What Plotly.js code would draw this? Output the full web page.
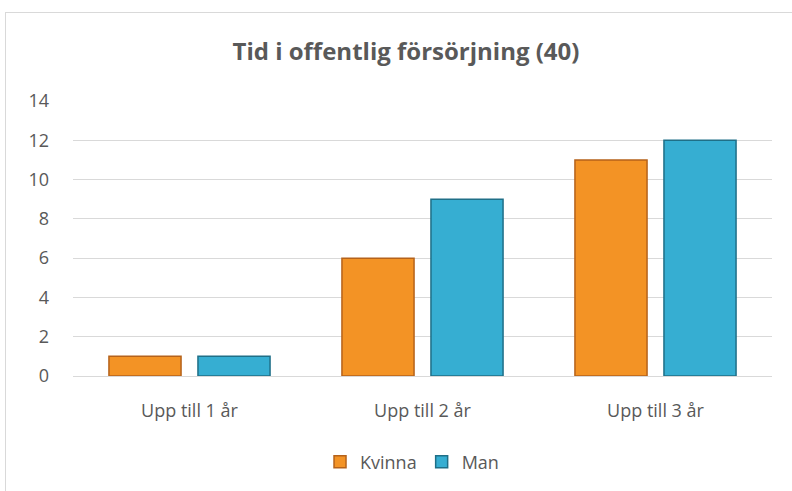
<!DOCTYPE html>
<html>
<head>
<meta charset="utf-8">
<script src="https://cdn.plot.ly/plotly-3.0.1.min.js"></script>
<style>
  html, body { margin: 0; padding: 0; background: #ffffff; overflow: hidden; }
  #wrap { position: relative; width: 792px; height: 491px; }
  #chart { position: absolute; left: 0; top: 0; width: 792px; height: 491px; }
  #frame { position: absolute; left: 5px; top: 12px; width: 820px; height: 520px;
           border: 1px solid #d9d9d9; pointer-events: none; box-sizing: border-box; }
</style>
</head>
<body>
<div id="wrap">
  <div id="chart"></div>
  <div id="frame"></div>
</div>
<script>
const categories = ["Upp till 1 år", "Upp till 2 år", "Upp till 3 år"];
const kvinna = [1, 6, 11];
const man = [1, 9, 12];
const yTicks = [0, 2, 4, 6, 8, 10, 12, 14];

const font = "'Open Sans', 'Noto Sans', sans-serif";
const textColor = "#595959";

const traces = [
  {
    type: "bar", name: "Kvinna", x: categories, y: kvinna,
    marker: { color: "#F39325", line: { color: "#B5621A", width: 1.5 } },
    hoverinfo: "skip"
  },
  {
    type: "bar", name: "Man", x: categories, y: man,
    marker: { color: "#36AED2", line: { color: "#1F6F87", width: 1.5 } },
    hoverinfo: "skip"
  }
];

const layout = {
  width: 792, height: 491,
  paper_bgcolor: "rgba(0,0,0,0)", plot_bgcolor: "rgba(0,0,0,0)",
  margin: { l: 73, r: 20, t: 101, b: 114 },
  barmode: "group", bargap: 0.236, bargroupgap: 0.19,
  title: {
    text: "<b>Tid i offentlig försörjning (40)</b>",
    font: { family: font, size: 24, color: textColor },
    x: 406 / 792, xanchor: "center", xref: "container",
    y: 1 - 52 / 491, yanchor: "middle", yref: "container"
  },
  xaxis: {
    type: "category", automargin: false,
    tickfont: { family: font, size: 18, color: textColor },
    showgrid: false, zeroline: false,
    showline: true, linecolor: "#d9d9d9", linewidth: 1,
    ticks: "", ticklabelstandoff: 18
  },
  yaxis: {
    range: [0, 14], tickvals: yTicks, ticktext: yTicks.map(String),
    automargin: false,
    tickfont: { family: font, size: 18, color: textColor },
    showgrid: true, gridcolor: "#d9d9d9", gridwidth: 1,
    zeroline: false, showline: false, ticks: "", ticklabelstandoff: 23
  },
  showlegend: true,
  legend: {
    orientation: "h", x: 0.485, xanchor: "center",
    y: (377 - 462) / 276, yanchor: "middle",
    font: { family: font, size: 18, color: textColor },
    itemwidth: 30, tracegroupgap: 0
  }
};

Plotly.newPlot("chart", traces, layout, { displayModeBar: false, staticPlot: true });
</script>
</body>
</html>
